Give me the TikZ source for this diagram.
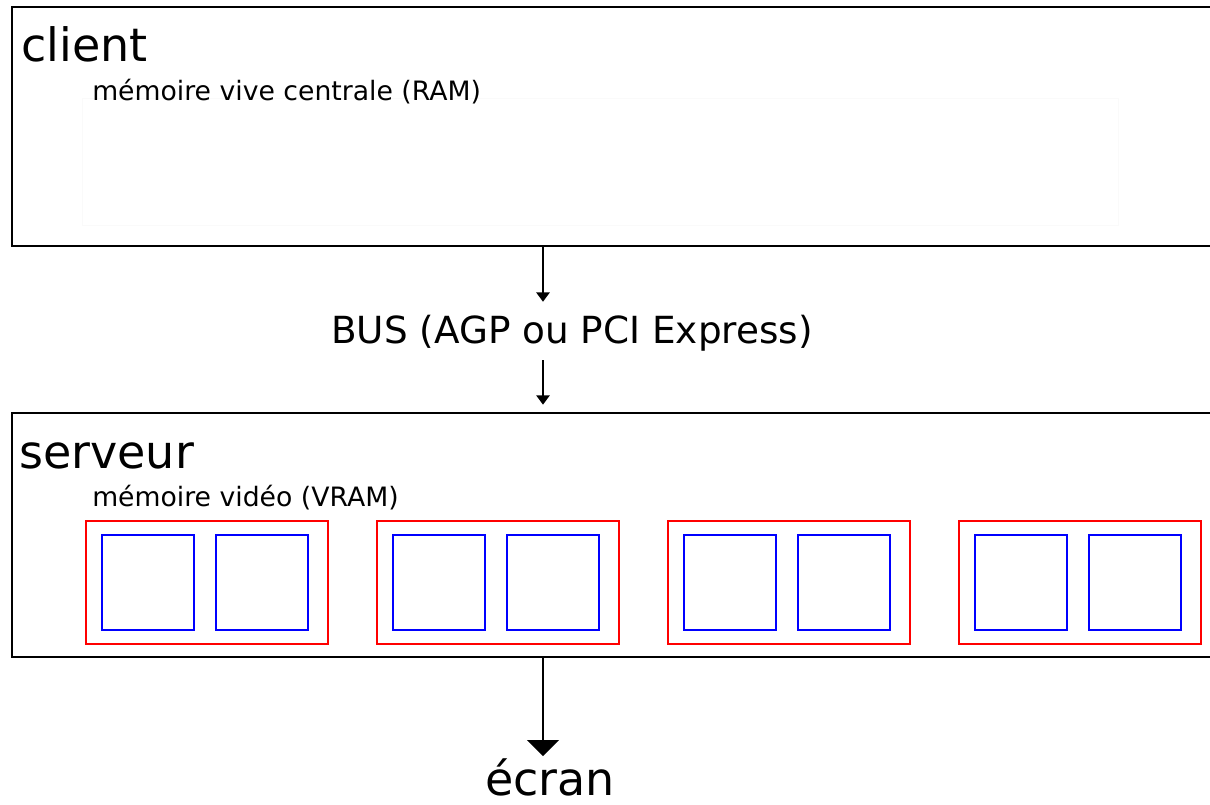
\documentclass[tikz,border=0pt]{standalone}
\usepackage{fontspec}
\setmainfont{DejaVu Sans}
\usetikzlibrary{arrows.meta,fit}
\begin{document}
\begin{tikzpicture}[x=0.75pt,y=-0.75pt,
	boite/.style={draw,line width=1.5pt,inner sep=0pt},
	titre/.style={anchor=base west,inner sep=0pt,font=\fontsize{34.5}{40}\selectfont},
	memoire/.style={anchor=base west,inner sep=0pt,font=\fontsize{20}{24}\selectfont},
	fleche/.style={line width=1.2pt,-{Triangle[width=10pt,length=7pt]}},
	grossefleche/.style={line width=1.2pt,-{Triangle[width=24pt,length=12pt]}},
	cadre/.style={draw=red,line width=1.5pt},
	page/.style={draw=blue,line width=1.5pt}]
	\useasboundingbox (0,0) rectangle (1210,804);
	\coordinate (axe) at (543,0);
	% client
	\node[boite,fit={(12,7) (1216,246)}] (client) {};
	\node[titre] (nomclient) at (21,61) {client};
	\draw[black!2] (82,98) rectangle (1118,225);
	\node[memoire] (ram) at (92,100) {mémoire vive centrale (RAM)};
	% bus
	\node[anchor=base,inner xsep=0pt,inner ysep=6pt,text height=24.75pt,text depth=6.75pt,
		font=\fontsize{28}{32}\selectfont] (bus) at (572,343) {BUS (AGP ou PCI Express)};
	% serveur
	\node[boite,fit={(12,413) (1216,657)}] (serveur) {};
	\node[titre] (nomserveur) at (19,468) {serveur};
	\node[memoire] (vram) at (92,506) {mémoire vidéo (VRAM)};
	\foreach \i in {0,1,2,3}{
		\draw[cadre] ({86+291*\i},521) rectangle ++(242,123);
		\draw[page] ({102+291*\i},535) rectangle ++(92,95);
		\draw[page] ({216+291*\i},535) rectangle ++(92,95);
	}
	% ecran
	\node[anchor=base,inner sep=0pt,text height=29pt,font=\fontsize{34.5}{40}\selectfont] (ecran) at (550,795) {écran};
	\draw[fleche] (client.south -| axe) -- (bus.north -| axe);
	\draw[fleche,shorten >=5.5pt] (bus.south -| axe) -- (serveur.north -| axe);
	\draw[grossefleche] (serveur.south -| axe) -- (ecran.north -| axe);
\end{tikzpicture}
\end{document}
